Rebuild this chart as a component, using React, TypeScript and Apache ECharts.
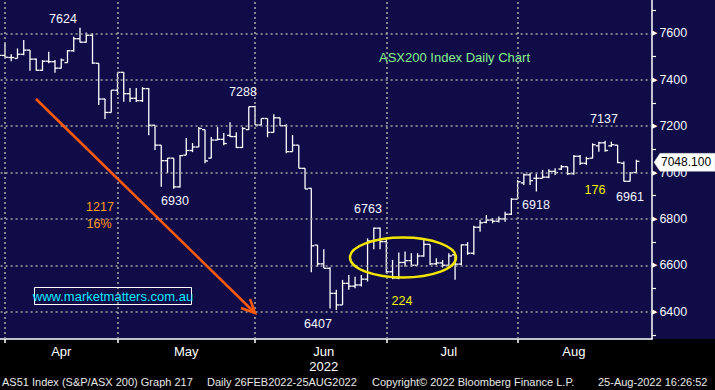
import React, { useEffect, useRef } from "react";
import * as echarts from "echarts";

// Trading days shown (category axis)
const dates: string[] = [
  "2022-03-31",
  "2022-04-01", "2022-04-04", "2022-04-05", "2022-04-06", "2022-04-07", "2022-04-08", "2022-04-11", "2022-04-12", "2022-04-13", "2022-04-14",
  "2022-04-19", "2022-04-20", "2022-04-21", "2022-04-22", "2022-04-26", "2022-04-27", "2022-04-28", "2022-04-29",
  "2022-05-02", "2022-05-03", "2022-05-04", "2022-05-05", "2022-05-06", "2022-05-09", "2022-05-10", "2022-05-11", "2022-05-12", "2022-05-13",
  "2022-05-16", "2022-05-17", "2022-05-18", "2022-05-19", "2022-05-20", "2022-05-23", "2022-05-24", "2022-05-25", "2022-05-26", "2022-05-27",
  "2022-05-30", "2022-05-31",
  "2022-06-01", "2022-06-02", "2022-06-03", "2022-06-06", "2022-06-07", "2022-06-08", "2022-06-09", "2022-06-10", "2022-06-14", "2022-06-15",
  "2022-06-16", "2022-06-17", "2022-06-20", "2022-06-21", "2022-06-22", "2022-06-23", "2022-06-24", "2022-06-27", "2022-06-28", "2022-06-29",
  "2022-06-30",
  "2022-07-01", "2022-07-04", "2022-07-05", "2022-07-06", "2022-07-07", "2022-07-08", "2022-07-11", "2022-07-12", "2022-07-13", "2022-07-14",
  "2022-07-15", "2022-07-18", "2022-07-19", "2022-07-20", "2022-07-21", "2022-07-22", "2022-07-25", "2022-07-26", "2022-07-27", "2022-07-28",
  "2022-07-29",
  "2022-08-01", "2022-08-02", "2022-08-03", "2022-08-04", "2022-08-05", "2022-08-08", "2022-08-09", "2022-08-10", "2022-08-11", "2022-08-12",
  "2022-08-15", "2022-08-16", "2022-08-17", "2022-08-18", "2022-08-19", "2022-08-22", "2022-08-23", "2022-08-24", "2022-08-25", "2022-08-26",
];

const opens: number[] = [
  7510,
  7505, 7496, 7492, 7510, 7528, 7489, 7441, 7480, 7478, 7450, 7474, 7525, 7577, 7562, 7592, 7471, 7317, 7259,
  7355, 7432, 7340, 7320, 7310, 7362, 7204, 7118, 7051, 7062, 6938, 7075, 7095, 7110, 7185, 7062, 7140, 7143, 7160, 7155, 7108, 7185,
  7284, 7205, 7233, 7173, 7236, 7202, 7090, 7118, 7018, 6932, 6687, 6606, 6587, 6479, 6429, 6522, 6510, 6515, 6540, 6705, 6760,
  6702, 6572, 6545, 6612, 6620, 6600, 6640, 6690, 6606, 6610, 6600, 6645, 6605, 6688, 6652, 6764, 6785, 6795, 6790, 6800, 6820,
  6885, 6955, 6990, 6975, 6975, 6980, 7005, 7015, 7025, 6995, 7070, 7040, 7062, 7115, 7128, 7115, 7118, 7040, 6962, 7000,
];
const highs: number[] = [
  7550,
  7557, 7510, 7535, 7571, 7528, 7492, 7485, 7521, 7485, 7492, 7528, 7585, 7624, 7604, 7600, 7471, 7317, 7355,
  7432, 7432, 7364, 7364, 7368, 7364, 7204, 7118, 7062, 7062, 7075, 7149, 7127, 7196, 7185, 7153, 7196, 7170, 7217, 7174, 7196, 7284,
  7288, 7233, 7233, 7251, 7236, 7208, 7162, 7118, 7018, 6932, 6687, 6669, 6591, 6494, 6537, 6558, 6551, 6558, 6716, 6763, 6763,
  6716, 6623, 6655, 6659, 6652, 6652, 6712, 6690, 6630, 6623, 6652, 6652, 6690, 6700, 6770, 6795, 6817, 6803, 6810, 6831, 6889,
  6968, 6996, 6999, 6996, 7011, 7014, 7018, 7032, 7025, 7075, 7075, 7068, 7126, 7133, 7137, 7133, 7119, 7047, 7002, 7055,
];
const lows: number[] = [
  7463,
  7496, 7480, 7492, 7506, 7439, 7439, 7439, 7471, 7430, 7449, 7474, 7521, 7561, 7561, 7468, 7291, 7231, 7259,
  7334, 7305, 7304, 7304, 7304, 7161, 7097, 6939, 6998, 6930, 6935, 7075, 7088, 7110, 7040, 7062, 7140, 7118, 7153, 7106, 7106, 7183,
  7205, 7205, 7152, 7173, 7202, 7083, 7090, 7018, 6929, 6570, 6594, 6587, 6414, 6407, 6429, 6494, 6501, 6508, 6530, 6669, 6669,
  6565, 6540, 6540, 6594, 6594, 6601, 6637, 6601, 6601, 6590, 6601, 6537, 6601, 6645, 6645, 6745, 6781, 6781, 6784, 6788, 6817,
  6885, 6946, 6946, 6918, 6975, 6975, 6989, 7011, 6989, 6990, 7032, 7032, 7061, 7090, 7090, 7111, 7040, 6961, 6962, 6998,
];
const closes: number[] = [
  7505,
  7497, 7496, 7510, 7528, 7489, 7441, 7480, 7478, 7450, 7485, 7525, 7577, 7562, 7592, 7472, 7317, 7259, 7355,
  7432, 7340, 7320, 7310, 7362, 7204, 7118, 7051, 7062, 6938, 7073, 7095, 7110, 7190, 7050, 7140, 7143, 7125, 7155, 7108, 7190, 7284,
  7205, 7233, 7173, 7236, 7202, 7090, 7118, 7018, 6929, 6684, 6606, 6587, 6479, 6429, 6522, 6510, 6515, 6540, 6705, 6760, 6702,
  6572, 6545, 6612, 6620, 6600, 6640, 6690, 6606, 6610, 6600, 6640, 6605, 6688, 6652, 6764, 6783, 6795, 6790, 6800, 6820, 6885,
  6960, 6990, 6965, 6975, 6980, 7005, 7000, 7025, 6995, 7070, 7040, 7060, 7120, 7128, 7095, 7120, 7043, 6962, 6998, 7048.1,
];

const padCategories = ["pad-1", "pad-2"];
const monthStarts = ["2022-04-01", "2022-05-02", "2022-06-01", "2022-07-01", "2022-08-01"];
const monthLabels: Record<string, string> = {
  "2022-04-14": "Apr",
  "2022-05-17": "May",
  "2022-06-17": "Jun\n2022",
  "2022-07-15": "Jul",
  "2022-08-12": "Aug",
};
const gridValues = [6400, 6600, 6800, 7000, 7200, 7400, 7600];
const tickValues = [6300, 6400, 6500, 6600, 6700, 6800, 6900, 7000, 7100, 7200, 7300, 7400, 7500, 7600, 7700];
const lastPrice = 7048.1;

const annotations = [
  { text: "7624", x: 63, y: 19, color: "#f2f5ff" },
  { text: "7288", x: 243, y: 92, color: "#f2f5ff" },
  { text: "6930", x: 175, y: 201, color: "#f2f5ff" },
  { text: "6763", x: 368, y: 209, color: "#f2f5ff" },
  { text: "6407", x: 318, y: 324, color: "#f2f5ff" },
  { text: "6918", x: 536, y: 205, color: "#f2f5ff" },
  { text: "6961", x: 630, y: 197, color: "#f2f5ff" },
  { text: "7137", x: 604, y: 119, color: "#f2f5ff" },
  { text: "224", x: 402, y: 301, color: "#f4f000" },
  { text: "176", x: 595, y: 190, color: "#f4f000" },
  { text: "1217", x: 100, y: 207, color: "#ff9a22" },
  { text: "16%", x: 99, y: 224, color: "#ff9a22" },
];

const footer = [
  { text: "AS51 Index (S&P/ASX 200) Graph 217", x: 2 },
  { text: "Daily 26FEB2022-25AUG2022", x: 207 },
  { text: "Copyright\u00a9 2022 Bloomberg Finance L.P.", x: 372 },
  { text: "25-Aug-2022 16:26:52", x: 598 },
];

const FONT = "Liberation Sans, Arial, sans-serif";

export default function App() {
  const ref = useRef<HTMLDivElement>(null);

  useEffect(() => {
    if (!ref.current) return;
    const chart = echarts.init(ref.current, undefined, { renderer: "svg" });
    const categories = [...dates, ...padCategories];
    const ohlc = dates.map((d, i) => [i, opens[i], highs[i], lows[i], closes[i]]);

    chart.setOption({
      animation: false,
      backgroundColor: "#000000",
      grid: { left: -4.4, right: 63, top: 0, bottom: 51, containLabel: false, outerBoundsMode: "none" },
      xAxis: {
        type: "category",
        data: categories,
        boundaryGap: true,
        axisLine: { show: true, lineStyle: { color: "#ffffff", width: 1.5 } },
        axisTick: {
          show: true,
          alignWithLabel: true,
          interval: (_i: number, v: string) => monthStarts.includes(v),
          length: 4,
          lineStyle: { color: "#ffffff", width: 1.5 },
        },
        axisLabel: {
          interval: (_i: number, v: string) => v in monthLabels,
          formatter: (v: string) => monthLabels[v] ?? "",
          color: "#ffffff",
          fontSize: 13,
          lineHeight: 15,
          fontFamily: FONT,
          margin: 5,
        },
        splitLine: { show: false },
      },
      yAxis: {
        type: "value",
        position: "right",
        min: 6282,
        max: 7744,
        splitLine: { show: false },
        axisLine: { show: true, lineStyle: { color: "#ffffff", width: 1.5 } },
        axisTick: {
          show: true,
          customValues: tickValues,
          length: 4,
          lineStyle: { color: "#ffffff", width: 1.2 },
        },
        axisLabel: {
          customValues: gridValues,
          margin: 0,
          formatter: (v: number) => `{t|\u25B6}{n|${v}}`,
          rich: {
            t: { fontSize: 7, color: "#ffffff", fontFamily: "DejaVu Sans", padding: [0, 2, 0, 0] },
            n: { fontSize: 12.5, color: "#f4f6ff", fontFamily: FONT },
          },
        },
      },
      series: [
        {
          type: "line",
          data: [],
          z: 1,
          silent: true,
          markLine: {
            silent: true,
            symbol: ["none", "none"],
            label: { show: false },
            lineStyle: { color: "#a4a4a4", type: [2, 3], width: 1.6 },
            data: [
              ...monthStarts.map((d) => ({ xAxis: d })),
              ...gridValues.map((v) => ({ yAxis: v })),
            ],
          },
        },
        {
          type: "custom",
          z: 3,
          silent: true,
          data: ohlc,
          encode: { x: 0, y: [1, 2, 3, 4] },
          renderItem: (_params: any, api: any) => {
            const i = api.value(0);
            const pO = api.coord([i, api.value(1)]);
            const pH = api.coord([i, api.value(2)]);
            const pL = api.coord([i, api.value(3)]);
            const pC = api.coord([i, api.value(4)]);
            const t = 3;
            const style = { stroke: "#ffffff", lineWidth: 1.3 };
            return {
              type: "group",
              children: [
                { type: "line", shape: { x1: pH[0], y1: pH[1], x2: pL[0], y2: pL[1] }, style },
                { type: "line", shape: { x1: pO[0] - t, y1: pO[1], x2: pO[0], y2: pO[1] }, style },
                { type: "line", shape: { x1: pC[0], y1: pC[1], x2: pC[0] + t, y2: pC[1] }, style },
              ],
            };
          },
        },
      ],
    });

    const tagY = chart.convertToPixel({ yAxisIndex: 0 }, lastPrice) as number;
    const ty = tagY + 1;

    const elements: any[] = [
      { type: "rect", z: -100, shape: { x: 0, y: 0, width: 715, height: 339 }, style: { fill: "#0f0c47" } },
      {
        type: "text", z: 50, x: 379, y: 57,
        style: { text: "ASX200 Index Daily Chart", fill: "#88f08e", font: `13px ${FONT}`, textVerticalAlign: "middle" },
      },
      { type: "line", z: 40, shape: { x1: 36, y1: 99, x2: 255, y2: 313 }, style: { stroke: "#ff5a0a", lineWidth: 2.5 } },
      { type: "polyline", z: 40, shape: { points: [[250, 299], [255, 313], [241, 308]] }, style: { stroke: "#ff5a0a", lineWidth: 2.5, fill: "none" } },
      { type: "ellipse", z: 40, shape: { cx: 403, cy: 257.5, rx: 53, ry: 20 }, style: { stroke: "#f2e600", lineWidth: 2.5, fill: "none" } },
      { type: "rect", z: 40, shape: { x: 34.5, y: 287.5, width: 157, height: 17 }, style: { stroke: "#ffffff", lineWidth: 1, fill: "none" } },
      {
        type: "text", z: 41, x: 113, y: 296,
        style: { text: "www.marketmatters.com.au", fill: "#10e6ff", font: `13px ${FONT}`, textAlign: "center", textVerticalAlign: "middle" },
      },
      {
        type: "polygon", z: 60,
        shape: { points: [[654, ty], [660, ty - 9], [715, ty - 9], [715, ty + 9], [660, ty + 9]] },
        style: { fill: "#ffffff", stroke: "#d0d0d0", lineWidth: 0.5 },
      },
      {
        type: "text", z: 61, x: 661, y: ty,
        style: { text: lastPrice.toFixed(3), fill: "#000000", font: `12px ${FONT}`, textVerticalAlign: "middle" },
      },
      ...annotations.map((a) => ({
        type: "text", z: 50, x: a.x, y: a.y,
        style: { text: a.text, fill: a.color, font: `12.5px ${FONT}`, textAlign: "center", textVerticalAlign: "middle" },
      })),
      ...footer.map((f) => ({
        type: "text", z: 50, x: f.x, y: 382,
        style: { text: f.text, fill: "#e8e8e8", font: `11px ${FONT}`, textVerticalAlign: "middle" },
      })),
    ];
    chart.setOption({ graphic: { elements } });

    return () => chart.dispose();
  }, []);

  return <div ref={ref} style={{ position: "fixed", left: 0, top: 0, width: 715, height: 390 }} />;
}
